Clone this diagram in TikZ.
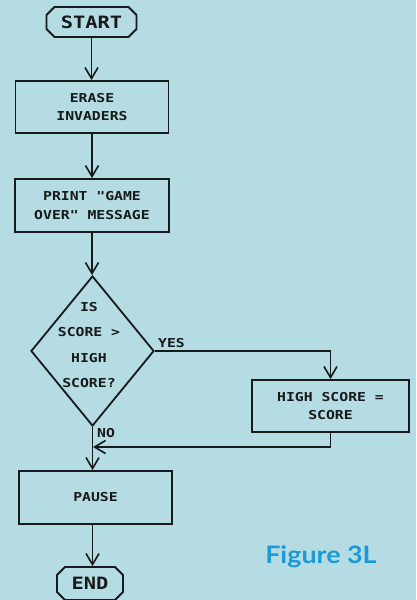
\documentclass[tikz,border=0pt]{standalone}
\usepackage{fontspec}
\usetikzlibrary{arrows.meta,shapes.misc,shapes.geometric}
\newfontfamily\chartfont[FakeStretch=1.2]{DejaVu Sans Mono}
\newfontfamily\captionfont[FakeStretch=1.12]{Lato}
\definecolor{paper}{HTML}{B6DCE3}
\definecolor{ink}{HTML}{161A1A}
\definecolor{capblue}{HTML}{1C9AD6}
\tikzset{
  every picture/.style={x=1pt,y=-1pt},
  flowline/.style={draw=ink,line width=1.8pt},
  arr/.style={flowline,-{Straight Barb[length=11pt,width=13pt,line width=1.6pt]}},
  terminal/.style={chamfered rectangle,chamfered rectangle xsep=4pt,chamfered rectangle ysep=4pt,
    draw=ink,line width=1.8pt,inner sep=0pt,text=ink,font=\chartfont\bfseries\fontsize{17}{20}\selectfont},
  process/.style={rectangle,draw=ink,line width=1.8pt,inner sep=0pt,align=center,text=ink,
    font=\chartfont\bfseries\fontsize{12.3}{18.5}\selectfont},
  decision/.style={diamond,draw=ink,line width=1.8pt,inner sep=0pt,
    minimum width=123pt,minimum height=150pt,aspect=0.82},
  question/.style={align=center,text=ink,inner sep=0pt,
    font=\chartfont\bfseries\fontsize{12.3}{25.5}\selectfont},
  tag/.style={text=ink,inner sep=0pt,font=\chartfont\bfseries\fontsize{12.3}{14}\selectfont}
}
\begin{document}
\begin{tikzpicture}
\path[fill=paper] (0,0) rectangle (416,600);
\useasboundingbox (0,0) rectangle (416,600);
\begin{scope}
\clip (0,0) rectangle (416,600);

% boxes of the flow
\node[terminal,minimum width=90pt,minimum height=30pt] (start) at (91.5,22) {START};
\node[process,minimum width=153pt,minimum height=52pt] (erase) at (92,107) {ERASE\\INVADERS};
\node[process,minimum width=154pt,minimum height=53pt] (print) at (92,205.5) {PRINT "GAME\\OVER" MESSAGE};
\node[decision] (dec) at (92.5,351) {};
\node[question] (q) at (89,345) {IS\\SCORE >\\HIGH\\SCORE?};
\node[process,minimum width=157pt,minimum height=52pt] (high) at (330.5,406) {HIGH SCORE =\\SCORE};
\node[process,minimum width=153pt,minimum height=53pt] (pause) at (95.5,497.5) {PAUSE};
\node[terminal,minimum width=66pt,minimum height=33pt] (end) at (90,583.5) {END};
\coordinate (join) at (93,447);

% connectors
\draw[arr] (start.south) -- (start.south |- erase.north);
\draw[arr] (erase.south) -- (erase.south |- print.north);
\draw[arr] (print.south) -- (print.south |- dec.north);
\draw[arr] (dec.east) -| (high.north);
\draw[arr] (high.south) |- (join);
\draw[arr] (dec.south) -- (dec.south |- pause.north);
\draw[arr] (pause.south -| dec.south) -- (end.north -| dec.south);

% branch labels
\node[tag,anchor=west] (yes) at (158,343) {YES};
\node[tag,anchor=west] (no) at (97,433) {NO};

% caption
\node[text=capblue,inner sep=0pt,font=\captionfont\bfseries\fontsize{24}{27}\selectfont] (cap) at (321,557) {Figure 3L};
\end{scope}
\end{tikzpicture}
\end{document}
